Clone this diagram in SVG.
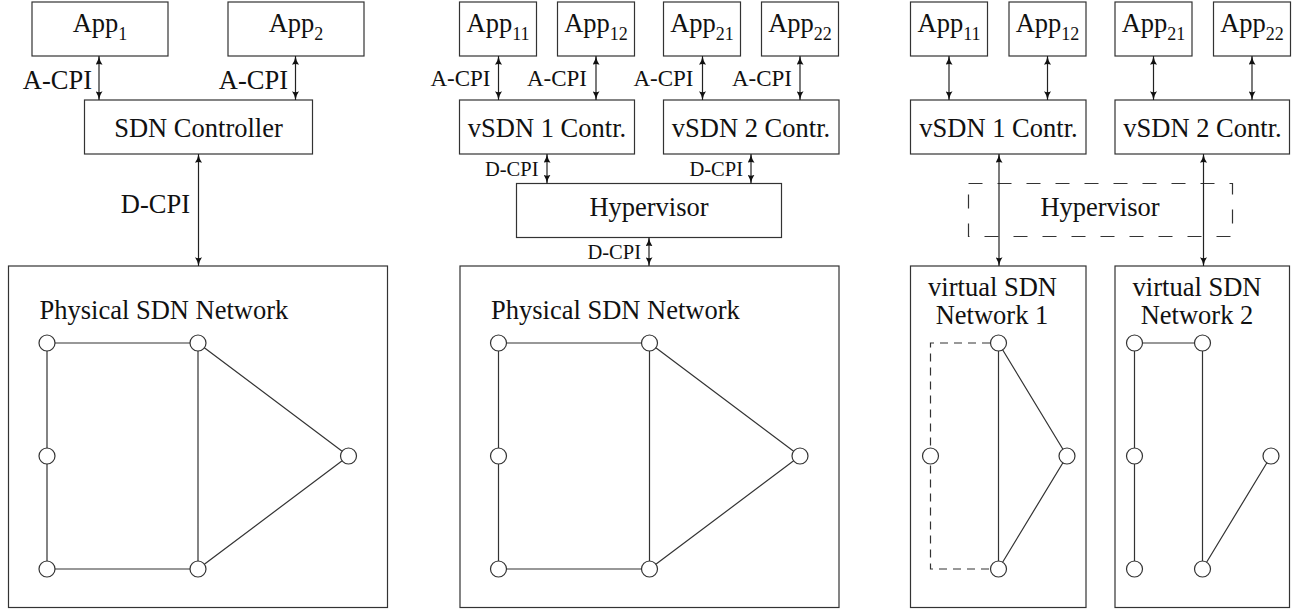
<svg xmlns="http://www.w3.org/2000/svg" width="1294" height="613" viewBox="0 0 1294 613" font-family="'Liberation Serif', 'Times New Roman', Times, 'DejaVu Serif', serif">
<style>
.box{fill:#fff;stroke:#333;stroke-width:1.2}
.dbox{fill:none;stroke:#333;stroke-width:1.2;stroke-dasharray:14 15}
.t{font-size:26.5px;fill:#111}
.m{text-anchor:middle}
.e{text-anchor:end}
.s{font-size:18px}
.a2{font-size:23px}
.d2{font-size:20.5px}
.arr{stroke:#222;stroke-width:1.2;fill:none;marker-start:url(#ah);marker-end:url(#ah)}
.edge{stroke:#333;stroke-width:1.2;fill:none}
.dedge{stroke:#333;stroke-width:1.2;fill:none;stroke-dasharray:8 6}
.nd{fill:#fff;stroke:#333;stroke-width:1.2}
</style>
<defs>
<marker id="ah" markerUnits="userSpaceOnUse" viewBox="0 0 10 8" markerWidth="9" markerHeight="7" refX="10" refY="4" orient="auto-start-reverse">
<path d="M0,0 Q4,3 10,4 Q4,5 0,8 Q2,4 0,0 Z" fill="#111"/>
</marker>
</defs>

<!-- Panel 1 -->
<g id="p1-app1"><rect class="box" x="32" y="2" width="136" height="54"/><text class="t m" x="100" y="32">App<tspan class="s" dy="8">1</tspan></text></g>
<g id="p1-app2"><rect class="box" x="228" y="2" width="136" height="54"/><text class="t m" x="296" y="32">App<tspan class="s" dy="8">2</tspan></text></g>
<g id="p1-ctrl"><rect class="box" x="84.5" y="100" width="228" height="54"/><text class="t m" x="198.5" y="137">SDN Controller</text></g>
<g id="p1-net"><rect class="box" x="8.5" y="266" width="379" height="341.5"/><text class="t" x="39.5" y="318.5">Physical SDN Network</text></g>

<!-- Panel 2 -->
<g id="p2-app11"><rect class="box" x="459.5" y="2" width="77" height="54"/><text class="t m" x="498" y="32">App<tspan class="s" dy="8">11</tspan></text></g>
<g id="p2-app12"><rect class="box" x="557.5" y="2" width="77" height="54"/><text class="t m" x="596" y="32">App<tspan class="s" dy="8">12</tspan></text></g>
<g id="p2-app21"><rect class="box" x="663.5" y="2" width="77" height="54"/><text class="t m" x="702" y="32">App<tspan class="s" dy="8">21</tspan></text></g>
<g id="p2-app22"><rect class="box" x="761.5" y="2" width="77" height="54"/><text class="t m" x="800" y="32">App<tspan class="s" dy="8">22</tspan></text></g>
<g id="p2-c1"><rect class="box" x="459.5" y="100" width="175" height="54"/><text class="t m" x="547" y="137">vSDN 1 Contr.</text></g>
<g id="p2-c2"><rect class="box" x="663.5" y="100" width="175.5" height="54"/><text class="t m" x="751" y="137">vSDN 2 Contr.</text></g>
<g id="p2-hyp"><rect class="box" x="516.5" y="183.5" width="265" height="54"/><text class="t m" x="649" y="216">Hypervisor</text></g>
<g id="p2-net"><rect class="box" x="460" y="266" width="379" height="341.5"/><text class="t" x="491" y="318.5">Physical SDN Network</text></g>

<!-- Panel 3 -->
<g id="p3-app11"><rect class="box" x="910.5" y="2" width="77" height="54"/><text class="t m" x="949" y="32">App<tspan class="s" dy="8">11</tspan></text></g>
<g id="p3-app12"><rect class="box" x="1009" y="2" width="77" height="54"/><text class="t m" x="1047.5" y="32">App<tspan class="s" dy="8">12</tspan></text></g>
<g id="p3-app21"><rect class="box" x="1115" y="2" width="77" height="54"/><text class="t m" x="1153.5" y="32">App<tspan class="s" dy="8">21</tspan></text></g>
<g id="p3-app22"><rect class="box" x="1213.5" y="2" width="77" height="54"/><text class="t m" x="1252" y="32">App<tspan class="s" dy="8">22</tspan></text></g>
<g id="p3-c1"><rect class="box" x="910.5" y="100" width="175.5" height="54"/><text class="t m" x="998.5" y="137">vSDN 1 Contr.</text></g>
<g id="p3-c2"><rect class="box" x="1115" y="100" width="174.5" height="54"/><text class="t m" x="1202.5" y="137">vSDN 2 Contr.</text></g>
<g id="p3-hyp"><rect class="dbox" x="968.5" y="183.5" width="264" height="53"/><text class="t m" x="1100" y="216">Hypervisor</text></g>
<g id="p3-net1"><rect class="box" x="910.5" y="266" width="175.5" height="341.5"/><text class="t m" x="992.5" y="296">virtual SDN</text><text class="t m" x="992" y="323.5">Network 1</text></g>
<g id="p3-net2"><rect class="box" x="1115" y="266" width="174.5" height="341.5"/><text class="t m" x="1197" y="296">virtual SDN</text><text class="t m" x="1197" y="323.5">Network 2</text></g>

<!-- Connectors -->
<g id="connectors">
<line class="arr" x1="99" y1="56" x2="99" y2="100"/>
<line class="arr" x1="295.5" y1="56" x2="295.5" y2="100"/>
<line class="arr" x1="198.5" y1="154" x2="198.5" y2="266"/>
<line class="arr" x1="498.5" y1="56" x2="498.5" y2="100"/>
<line class="arr" x1="596" y1="56" x2="596" y2="100"/>
<line class="arr" x1="702.5" y1="56" x2="702.5" y2="100"/>
<line class="arr" x1="800" y1="56" x2="800" y2="100"/>
<line class="arr" x1="547" y1="154" x2="547" y2="183.5"/>
<line class="arr" x1="751" y1="154" x2="751" y2="183.5"/>
<line class="arr" x1="649" y1="237.5" x2="649" y2="266"/>
<line class="arr" x1="949" y1="56" x2="949" y2="100"/>
<line class="arr" x1="1047.5" y1="56" x2="1047.5" y2="100"/>
<line class="arr" x1="1153.5" y1="56" x2="1153.5" y2="100"/>
<line class="arr" x1="1252" y1="56" x2="1252" y2="100"/>
<line class="arr" x1="999" y1="154" x2="999" y2="266"/>
<line class="arr" x1="1203.5" y1="154" x2="1203.5" y2="266"/>
</g>

<g id="connector-labels">
<text class="t e" x="92" y="89">A-CPI</text>
<text class="t e" x="288" y="89">A-CPI</text>
<text class="t e" x="190" y="213">D-CPI</text>
<text class="t e a2" x="490.5" y="86">A-CPI</text>
<text class="t e a2" x="587" y="86">A-CPI</text>
<text class="t e a2" x="693.5" y="86">A-CPI</text>
<text class="t e a2" x="792" y="86">A-CPI</text>
<text class="t e d2" x="538.5" y="175.5">D-CPI</text>
<text class="t e d2" x="743" y="175.5">D-CPI</text>
<text class="t e d2" x="641" y="259">D-CPI</text>
</g>

<!-- Network graphs -->
<g id="graph1">
<path class="edge" d="M47,343 H198 M47,343 V569 H198 M198,343 V569 M198,343 L348.5,456 L198,569"/>
<circle class="nd" cx="47" cy="343" r="8"/><circle class="nd" cx="198" cy="343" r="8"/>
<circle class="nd" cx="47" cy="456" r="8"/><circle class="nd" cx="348.5" cy="456" r="8"/>
<circle class="nd" cx="47" cy="569" r="8"/><circle class="nd" cx="198" cy="569" r="8"/>
</g>
<g id="graph2">
<path class="edge" d="M498.5,343 H649.5 M498.5,343 V569 H649.5 M649.5,343 V569 M649.5,343 L800,456 L649.5,569"/>
<circle class="nd" cx="498.5" cy="343" r="8"/><circle class="nd" cx="649.5" cy="343" r="8"/>
<circle class="nd" cx="498.5" cy="456" r="8"/><circle class="nd" cx="800" cy="456" r="8"/>
<circle class="nd" cx="498.5" cy="569" r="8"/><circle class="nd" cx="649.5" cy="569" r="8"/>
</g>
<g id="graph3">
<path class="dedge" d="M990,343 H930.5 V569 H990"/>
<path class="edge" d="M998.5,343 V569 M998.5,343 L1067,456 L998.5,569"/>
<circle class="nd" cx="998.5" cy="343" r="8"/><circle class="nd" cx="930.5" cy="456" r="8"/>
<circle class="nd" cx="1067" cy="456" r="8"/><circle class="nd" cx="998.5" cy="569" r="8"/>
</g>
<g id="graph4">
<path class="edge" d="M1134.5,343 H1202.5 M1134.5,343 V569 M1202.5,343 V569 M1202.5,569 L1271,456"/>
<circle class="nd" cx="1134.5" cy="343" r="8"/><circle class="nd" cx="1202.5" cy="343" r="8"/>
<circle class="nd" cx="1134.5" cy="456" r="8"/><circle class="nd" cx="1271" cy="456" r="8"/>
<circle class="nd" cx="1134.5" cy="569" r="8"/><circle class="nd" cx="1202.5" cy="569" r="8"/>
</g>
</svg>
